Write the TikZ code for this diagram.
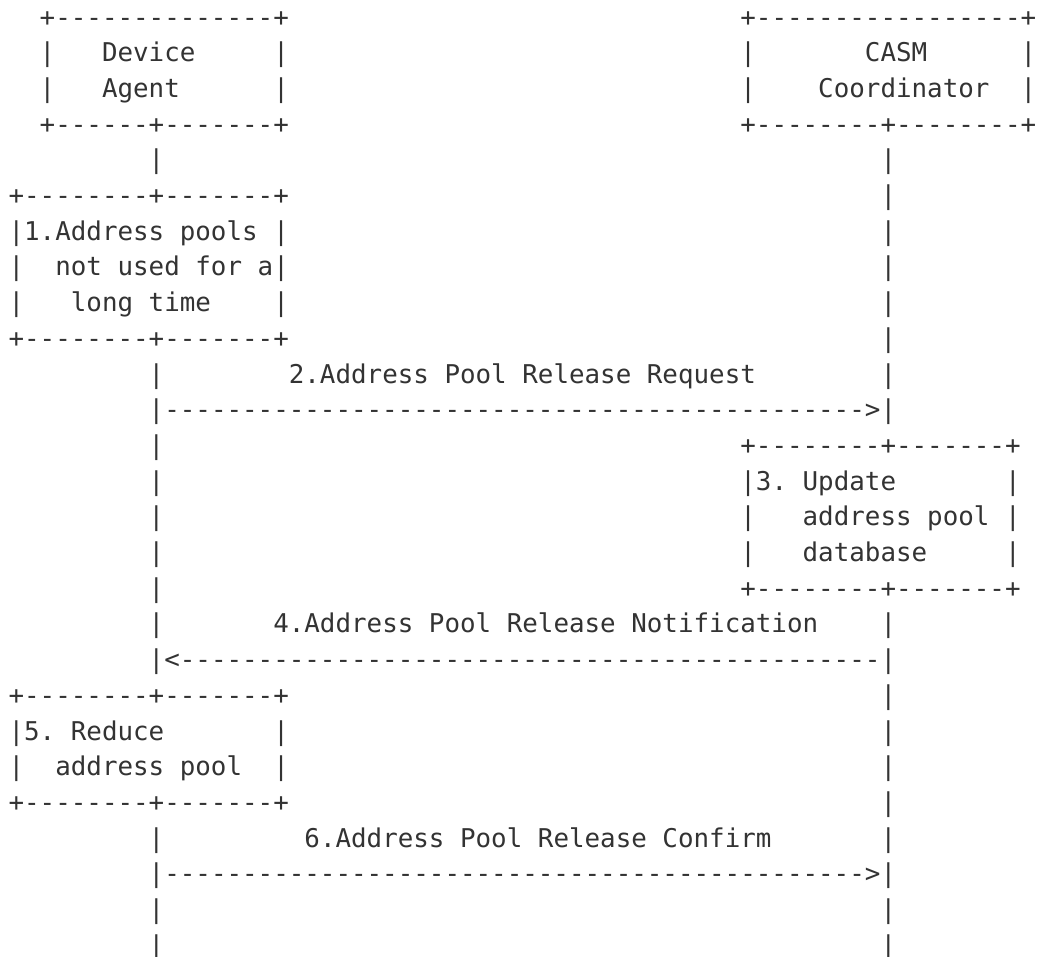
\documentclass[tikz,border=0pt]{standalone}
\usepackage{fontspec}
\setmonofont{DejaVu Sans Mono}
\ExplSyntaxOn
\cs_new:Npn \ascrep #1#2 { \prg_replicate:nn {#1} {#2} }
\ExplSyntaxOff
\definecolor{ink}{HTML}{333333}
\tikzset{
  seg/.style={anchor=base west, inner sep=0pt, outer sep=0pt, text=ink,
    font=\ttfamily\fontsize{25.86pt}{35.7pt}\selectfont\frenchspacing}
}
% \ascat{name}{column}{row}{text}
\newcommand\ascat[4]{\node[seg] (#1) at ({(8.6+15.57*#2)*1pt},{-(26+35.7*(#3-1))*1pt}) {#4};}
\begin{document}
\begin{tikzpicture}
\fill[white] (0,0) rectangle (1039pt,-956pt);
\useasboundingbox (0,0) rectangle (1039pt,-956pt);
% row 1
\ascat{agTop}{2}{1}{+\ascrep{14}{-}+}
\ascat{coTop}{47}{1}{+\ascrep{17}{-}+}
% row 2
\ascat{agL2}{2}{2}{|}
\ascat{agName1}{6}{2}{Device}
\ascat{agR2}{17}{2}{|}
\ascat{coL2}{47}{2}{|}
\ascat{coName1}{55}{2}{CASM}
\ascat{coR2}{65}{2}{|}
% row 3
\ascat{agL3}{2}{3}{|}
\ascat{agName2}{6}{3}{Agent}
\ascat{agR3}{17}{3}{|}
\ascat{coL3}{47}{3}{|}
\ascat{coName2}{52}{3}{Coordinator}
\ascat{coR3}{65}{3}{|}
% row 4
\ascat{agBot}{2}{4}{+\ascrep{6}{-}+\ascrep{7}{-}+}
\ascat{coBot}{47}{4}{+\ascrep{8}{-}+\ascrep{8}{-}+}
% row 5
\ascat{lA5}{9}{5}{|}
\ascat{lB5}{56}{5}{|}
% row 6
\ascat{s1Top}{0}{6}{+\ascrep{8}{-}+\ascrep{7}{-}+}
\ascat{lB6}{56}{6}{|}
% row 7
\ascat{s1L7}{0}{7}{|}
\ascat{s1T1}{1}{7}{1.Address pools}
\ascat{s1R7}{17}{7}{|}
\ascat{lB7}{56}{7}{|}
% row 8
\ascat{s1L8}{0}{8}{|}
\ascat{s1T2}{3}{8}{not used for a}
\ascat{s1R8}{17}{8}{|}
\ascat{lB8}{56}{8}{|}
% row 9
\ascat{s1L9}{0}{9}{|}
\ascat{s1T3}{4}{9}{long time}
\ascat{s1R9}{17}{9}{|}
\ascat{lB9}{56}{9}{|}
% row 10
\ascat{s1Bot}{0}{10}{+\ascrep{8}{-}+\ascrep{7}{-}+}
\ascat{lB10}{56}{10}{|}
% row 11
\ascat{lA11}{9}{11}{|}
\ascat{m2}{18}{11}{2.Address Pool Release Request}
\ascat{lB11}{56}{11}{|}
% row 12
\ascat{lA12}{9}{12}{|}
\ascat{a2}{10}{12}{\ascrep{45}{-}>}
\ascat{lB12}{56}{12}{|}
% row 13
\ascat{lA13}{9}{13}{|}
\ascat{s3Top}{47}{13}{+\ascrep{8}{-}+\ascrep{7}{-}+}
% row 14
\ascat{lA14}{9}{14}{|}
\ascat{s3L14}{47}{14}{|}
\ascat{s3T1}{48}{14}{3. Update}
\ascat{s3R14}{64}{14}{|}
% row 15
\ascat{lA15}{9}{15}{|}
\ascat{s3L15}{47}{15}{|}
\ascat{s3T2}{51}{15}{address pool}
\ascat{s3R15}{64}{15}{|}
% row 16
\ascat{lA16}{9}{16}{|}
\ascat{s3L16}{47}{16}{|}
\ascat{s3T3}{51}{16}{database}
\ascat{s3R16}{64}{16}{|}
% row 17
\ascat{lA17}{9}{17}{|}
\ascat{s3Bot}{47}{17}{+\ascrep{8}{-}+\ascrep{7}{-}+}
% row 18
\ascat{lA18}{9}{18}{|}
\ascat{m4}{17}{18}{4.Address Pool Release Notification}
\ascat{lB18}{56}{18}{|}
% row 19
\ascat{lA19}{9}{19}{|}
\ascat{a4}{10}{19}{<\ascrep{45}{-}}
\ascat{lB19}{56}{19}{|}
% row 20
\ascat{s5Top}{0}{20}{+\ascrep{8}{-}+\ascrep{7}{-}+}
\ascat{lB20}{56}{20}{|}
% row 21
\ascat{s5L21}{0}{21}{|}
\ascat{s5T1}{1}{21}{5. Reduce}
\ascat{s5R21}{17}{21}{|}
\ascat{lB21}{56}{21}{|}
% row 22
\ascat{s5L22}{0}{22}{|}
\ascat{s5T2}{3}{22}{address pool}
\ascat{s5R22}{17}{22}{|}
\ascat{lB22}{56}{22}{|}
% row 23
\ascat{s5Bot}{0}{23}{+\ascrep{8}{-}+\ascrep{7}{-}+}
\ascat{lB23}{56}{23}{|}
% row 24
\ascat{lA24}{9}{24}{|}
\ascat{m6}{19}{24}{6.Address Pool Release Confirm}
\ascat{lB24}{56}{24}{|}
% row 25
\ascat{lA25}{9}{25}{|}
\ascat{a6}{10}{25}{\ascrep{45}{-}>}
\ascat{lB25}{56}{25}{|}
% row 26
\ascat{lA26}{9}{26}{|}
\ascat{lB26}{56}{26}{|}
% row 27
\ascat{lA27}{9}{27}{|}
\ascat{lB27}{56}{27}{|}
\end{tikzpicture}
\end{document}
